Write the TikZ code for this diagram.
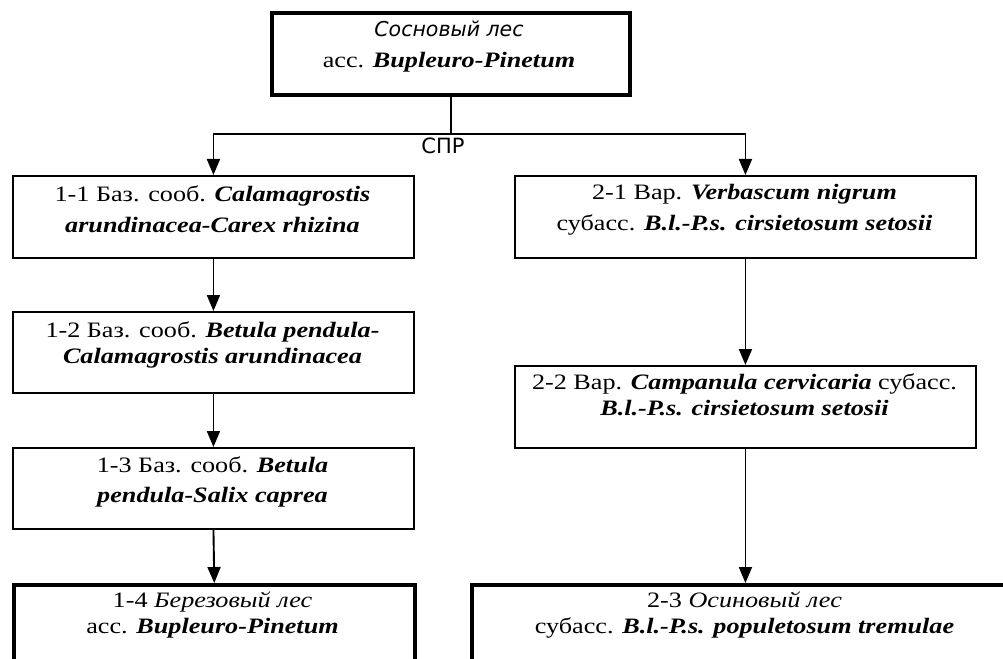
\documentclass[tikz,border=0pt]{standalone}
\usepackage{fontspec}
\setmainfont[FakeStretch=1.19]{Liberation Serif}
\newfontfamily\sansf{DejaVu Sans}
\usetikzlibrary{arrows.meta}
\newcommand{\bi}[1]{\textbf{\textit{#1}}}
\begin{document}
\begin{tikzpicture}[x=1bp,y=-1bp,
  thinbox/.style={draw, line width=1.9bp, anchor=north west, inner sep=0pt},
  thickbox/.style={draw, line width=3.6bp, anchor=north west, inner sep=0pt},
  txt/.style={align=center, inner sep=0pt, anchor=base, font=\fontsize{22bp}{26bp}\selectfont},
  conn/.style={line width=1.9bp},
  arr/.style={line width=1.9bp, -{Triangle[length=16bp,width=13bp]}}]
\clip (0,0) rectangle (1003,659);
\fill[white] (0,0) rectangle (1003,659);
% boxes
\node[thickbox, minimum width=358bp, minimum height=82bp] (top) at (270,11) {};
\node[thinbox, minimum width=401bp, minimum height=82bp] (b11) at (12,175) {};
\node[thinbox, minimum width=401bp, minimum height=81bp] (b12) at (12,311) {};
\node[thinbox, minimum width=401bp, minimum height=81bp] (b13) at (12,447) {};
\node[thickbox, minimum width=401bp, minimum height=120bp] (b14) at (12,583) {};
\node[thinbox, minimum width=461bp, minimum height=82bp] (b21) at (514,175) {};
\node[thinbox, minimum width=461bp, minimum height=82bp] (b22) at (514,365) {};
\node[thickbox, minimum width=550bp, minimum height=120bp] (b23) at (470,583) {};
% texts (anchor = baseline of last line)
\node[txt] (ttop) at (449,68) {{\sansf\itshape\fontsize{20.5bp}{24bp}\selectfont Сосновый лес}\\[5bp]асс. \bi{Bupleuro-Pinetum}};
\node[txt] (t11) at (212.5,232) {1-1 Баз. сооб. \bi{Calamagrostis}\\[5bp]\bi{arundinacea-Carex rhizina}};
\node[txt] (t12) at (212.5,363) {1-2 Баз. сооб. \bi{Betula pendula-}\\\bi{Calamagrostis arundinacea}};
\node[txt] (t13) at (212.5,502) {1-3 Баз. сооб. \bi{Betula}\\[4bp]\bi{pendula-Salix caprea}};
\node[txt] (t14) at (212.5,633) {1-4 \textit{Березовый лес}\\асс. \bi{Bupleuro-Pinetum}};
\node[txt] (t21) at (744.5,230) {2-1 Вар. \bi{Verbascum nigrum}\\[4bp]субасс. \bi{B.l.-P.s. cirsietosum setosii}};
\node[txt] (t22) at (744.5,415) {2-2 Вар. \bi{Campanula cervicaria} субасс.\\\bi{B.l.-P.s. cirsietosum setosii}};
\node[txt] (t23) at (744.5,633) {2-3 \textit{Осиновый лес}\\субасс. \bi{B.l.-P.s. populetosum tremulae}};
% connectors
\coordinate (j) at (top.south |- 0,134);
\draw[conn] (top.south) -- (j);
\draw[arr] (j) -| (b11.north);
\draw[arr] (j) -| (b21.north);
\node[inner sep=0pt, anchor=base, font=\sansf\fontsize{21bp}{24bp}\selectfont] (spr) at (443,154) {СПР};
\draw[arr] (b11.south) -- (b12.north);
\draw[arr] (b12.south) -- (b13.north);
\draw[arr] (b13.south) -- (b14.north);
\draw[arr] (b21.south) -- (b22.north);
\draw[arr] (b22.south) -- (b22.south |- b23.north);
\end{tikzpicture}
\end{document}
